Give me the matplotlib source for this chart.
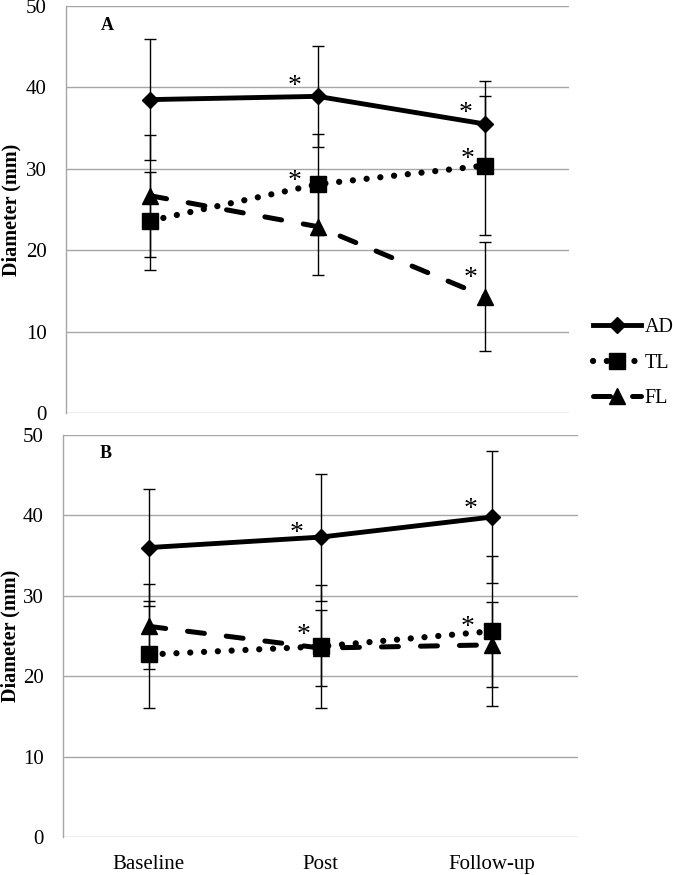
import matplotlib
matplotlib.use("Agg")
import matplotlib.pyplot as plt

plt.rcParams['font.family'] = ['Liberation Serif', 'DejaVu Serif']

categories = ['Baseline', 'Post', 'Follow-up']
series_names = ['AD', 'TL', 'FL']

# Panel A means and SDs
a_ad = [38.5, 38.9, 35.5]
a_ad_sd = [7.4, 6.2, 5.3]
a_tl = [23.6, 28.1, 30.4]
a_tl_sd = [6.0, 6.2, 8.5]
a_fl = [26.7, 22.9, 14.3]
a_fl_sd = [7.5, 5.9, 6.7]

# Panel B means and SDs
b_ad = [36.0, 37.3, 39.8]
b_ad_sd = [7.3, 7.9, 8.2]
b_tl = [22.7, 23.7, 25.6]
b_tl_sd = [6.7, 7.6, 9.3]
b_fl = [26.2, 23.5, 23.9]
b_fl_sd = [5.3, 4.7, 5.3]

# significance markers: (series, category index)
sig_a = [('AD', 1), ('AD', 2), ('TL', 1), ('TL', 2), ('FL', 2)]
sig_b = [('AD', 1), ('AD', 2), ('TL', 1), ('TL', 2)]

yticks = [0, 10, 20, 30, 40, 50]

styles = {
    'AD': dict(linestyle='-', lw=3.5, marker='D', ms=8),
    'TL': dict(linestyle=(0, (0.01, 2.2)), lw=4.5, marker='s', ms=11,
               dash_capstyle='round'),
    'FL': dict(linestyle=(0, (3.4, 4.4)), lw=3.6, marker='^', ms=11,
               dash_capstyle='round'),
}

# pixel offsets of asterisks from the marker
ast_off_a = {('AD', 1): (-23, 17), ('AD', 2): (-20, 18), ('TL', 1): (-23, 10),
             ('TL', 2): (-18, 14), ('FL', 2): (-15, 26)}
ast_off_b = {('AD', 1): (-24, 11), ('AD', 2): (-22, 15), ('TL', 1): (-17, 18),
             ('TL', 2): (-25, 11)}

fig = plt.figure(figsize=(6.73, 8.75), dpi=100)
axA = fig.add_axes([66/673, 1-413/875, 503/673, 407/875])
axB = fig.add_axes([63/673, 1-837/875, 515/673, 402/875])

grid_col = '#a6a6a6'
x = list(range(len(categories)))


def draw(ax, data, sig, offs, label, show_x):
    handles = []
    for name in series_names:
        vals, sds = data[name]
        st = styles[name]
        h, = ax.plot(x, vals, color='black', linestyle=st['linestyle'], lw=st['lw'],
                     marker=st['marker'], ms=st['ms'], markeredgecolor='black',
                     dash_capstyle=st.get('dash_capstyle', 'butt'), zorder=3,
                     label=name)
        ax.errorbar(x, vals, yerr=sds, fmt='none', ecolor='black', elinewidth=1.0,
                    capsize=4, capthick=1.0, zorder=4)
        handles.append(h)
    for name, i in sig:
        vals, _ = data[name]
        dx, dy = offs[(name, i)]
        ax.annotate('*', (x[i], vals[i]), xytext=(dx, dy - 14),
                    textcoords='offset pixels', ha='center', va='baseline',
                    fontsize=20, zorder=5)
    ax.set_xlim(-0.5, 2.5)
    ax.set_ylim(0, 50)
    ax.set_yticks(yticks)
    ax.yaxis.grid(True, color=grid_col, lw=1.0)
    ax.set_axisbelow(True)
    for s in ['top', 'right', 'bottom']:
        ax.spines[s].set_visible(False)
    ax.spines['left'].set_color(grid_col)
    ax.spines['left'].set_linewidth(1.0)
    ax.tick_params(axis='both', length=0, labelsize=15, pad=13)
    ax.tick_params(axis='y', pad=14)
    if show_x:
        ax.set_xticks(x)
        ax.set_xticklabels(categories)
    else:
        ax.set_xticks([])
    ax.set_ylabel('Diameter (mm)', fontsize=14.5, fontweight='bold')
    ax.text(0.083, 0.953, label, transform=ax.transAxes, fontsize=13,
            fontweight='bold', ha='center', va='center')
    return handles


handles = draw(axA, {'AD': (a_ad, a_ad_sd), 'TL': (a_tl, a_tl_sd), 'FL': (a_fl, a_fl_sd)},
               sig_a, ast_off_a, 'A', False)
draw(axB, {'AD': (b_ad, b_ad_sd), 'TL': (b_tl, b_tl_sd), 'FL': (b_fl, b_fl_sd)},
     sig_b, ast_off_b, 'B', True)

axA.yaxis.set_label_coords(-0.089, 0.5)
axB.yaxis.set_label_coords(-0.0816, 0.5)

fig.legend(handles, series_names, loc='center left', bbox_to_anchor=(585/673, 1-363/875),
           frameon=False, fontsize=14.5, handlelength=2.4, handletextpad=0.15,
           labelspacing=0.8, numpoints=1, borderaxespad=0)

fig.savefig('out.png', dpi=100)
